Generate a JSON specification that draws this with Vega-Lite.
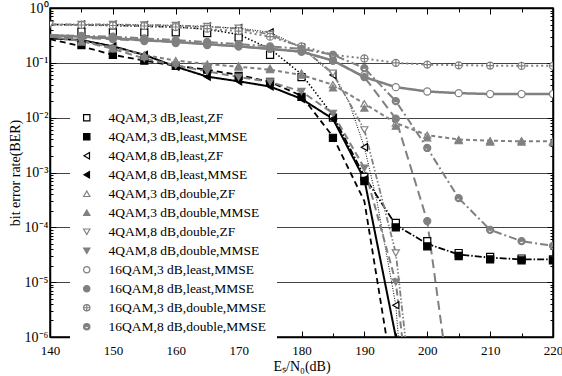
{
"$schema": "https://vega.github.io/schema/vega-lite/v6.json",
"width": 503, "height": 329,
"autosize": {"type": "none"},
"padding": {"left": 50, "top": 8, "right": 9, "bottom": 39},
"background": "white",
"config": {
  "view": {"stroke": "black", "strokeWidth": 1.5},
  "font": "Liberation Serif",
  "axis": {"labelFont": "Liberation Serif", "titleFont": "Liberation Serif", "labelFontSize": 14, "titleFontSize": 14, "titleFontWeight": "normal", "labelColor": "black", "titleColor": "black", "domainColor": "black", "domainWidth": 1.5, "tickColor": "black", "tickWidth": 1, "labelFlush": false, "labelOverlap": false},
  "legend": {"orient": "none", "legendX": 20, "legendY": 93, "fillColor": "white", "padding": 10, "labelFont": "Liberation Serif", "labelFontSize": 13.5, "labelColor": "black", "labelLimit": 400, "symbolSize": 40, "symbolStrokeWidth": 1.2, "rowPadding": 4, "labelOffset": 15}
},
"datasets": {
 "lines": [
  {"curve":"zf3","x":140,"y":0.5},{"curve":"zf3","x":150,"y":0.48},{"curve":"zf3","x":160,"y":0.45},{"curve":"zf3","x":165,"y":0.41},{"curve":"zf3","x":170,"y":0.33},{"curve":"zf3","x":175,"y":0.18},{"curve":"zf3","x":180,"y":0.062},{"curve":"zf3","x":185,"y":0.011},
  {"curve":"floor","x":185,"y":0.011},{"curve":"floor","x":190,"y":0.00085},{"curve":"floor","x":195,"y":0.00011},{"curve":"floor","x":200,"y":0.00005},{"curve":"floor","x":205,"y":0.000032},{"curve":"floor","x":210,"y":0.000028},{"curve":"floor","x":215,"y":0.000026},{"curve":"floor","x":220,"y":0.000026},
  {"curve":"zf8","x":140,"y":0.5},{"curve":"zf8","x":150,"y":0.5},{"curve":"zf8","x":160,"y":0.48},{"curve":"zf8","x":170,"y":0.43},{"curve":"zf8","x":175,"y":0.36},{"curve":"zf8","x":180,"y":0.19},{"curve":"zf8","x":185,"y":0.06},{"curve":"zf8","x":187.5,"y":0.02},{"curve":"zf8","x":190,"y":0.0029},{"curve":"zf8","x":192,"y":0.0003},{"curve":"zf8","x":195,"y":0.0000038},{"curve":"zf8","x":195.4,"y":0.000001},
  {"curve":"solid","x":140,"y":0.28},{"curve":"solid","x":145,"y":0.26},{"curve":"solid","x":150,"y":0.2},{"curve":"solid","x":155,"y":0.14},{"curve":"solid","x":160,"y":0.085},{"curve":"solid","x":165,"y":0.056},{"curve":"solid","x":170,"y":0.046},{"curve":"solid","x":175,"y":0.037},{"curve":"solid","x":180,"y":0.022},{"curve":"solid","x":185,"y":0.0095},{"curve":"solid","x":190,"y":0.00075},{"curve":"solid","x":195,"y":0.000001},
  {"curve":"dash","x":140,"y":0.27},{"curve":"dash","x":145,"y":0.2},{"curve":"dash","x":150,"y":0.14},{"curve":"dash","x":155,"y":0.11},{"curve":"dash","x":160,"y":0.088},{"curve":"dash","x":165,"y":0.075},{"curve":"dash","x":170,"y":0.06},{"curve":"dash","x":175,"y":0.045},{"curve":"dash","x":180,"y":0.025},{"curve":"dash","x":185,"y":0.0045},{"curve":"dash","x":190,"y":0.0003},{"curve":"dash","x":193.5,"y":0.000001},
  {"curve":"gsolid","x":140,"y":0.32},{"curve":"gsolid","x":150,"y":0.28},{"curve":"gsolid","x":160,"y":0.24},{"curve":"gsolid","x":170,"y":0.2},{"curve":"gsolid","x":180,"y":0.16},{"curve":"gsolid","x":185,"y":0.11},{"curve":"gsolid","x":190,"y":0.055},{"curve":"gsolid","x":195,"y":0.036},{"curve":"gsolid","x":200,"y":0.03},{"curve":"gsolid","x":205,"y":0.028},{"curve":"gsolid","x":210,"y":0.027},{"curve":"gsolid","x":215,"y":0.027},{"curve":"gsolid","x":220,"y":0.027},
  {"curve":"gdot","x":140,"y":0.5},{"curve":"gdot","x":150,"y":0.48},{"curve":"gdot","x":160,"y":0.45},{"curve":"gdot","x":170,"y":0.38},{"curve":"gdot","x":175,"y":0.3},{"curve":"gdot","x":180,"y":0.2},{"curve":"gdot","x":185,"y":0.14},{"curve":"gdot","x":190,"y":0.12},{"curve":"gdot","x":195,"y":0.1},{"curve":"gdot","x":200,"y":0.093},{"curve":"gdot","x":210,"y":0.089},{"curve":"gdot","x":220,"y":0.088},
  {"curve":"gdashdot","x":140,"y":0.32},{"curve":"gdashdot","x":150,"y":0.3},{"curve":"gdashdot","x":160,"y":0.26},{"curve":"gdashdot","x":170,"y":0.22},{"curve":"gdashdot","x":180,"y":0.18},{"curve":"gdashdot","x":185,"y":0.14},{"curve":"gdashdot","x":190,"y":0.08},{"curve":"gdashdot","x":195,"y":0.02},{"curve":"gdashdot","x":200,"y":0.0028},{"curve":"gdashdot","x":205,"y":0.00034},{"curve":"gdashdot","x":210,"y":0.00009},{"curve":"gdashdot","x":215,"y":0.000056},{"curve":"gdashdot","x":220,"y":0.000046},
  {"curve":"glong","x":140,"y":0.3},{"curve":"glong","x":150,"y":0.27},{"curve":"glong","x":160,"y":0.24},{"curve":"glong","x":170,"y":0.2},{"curve":"glong","x":180,"y":0.16},{"curve":"glong","x":185,"y":0.11},{"curve":"glong","x":190,"y":0.055},{"curve":"glong","x":195,"y":0.0096},{"curve":"glong","x":200,"y":0.00013},{"curve":"glong","x":202.5,"y":0.000001},
  {"curve":"gshort","x":140,"y":0.3},{"curve":"gshort","x":145,"y":0.25},{"curve":"gshort","x":150,"y":0.19},{"curve":"gshort","x":155,"y":0.14},{"curve":"gshort","x":160,"y":0.11},{"curve":"gshort","x":165,"y":0.095},{"curve":"gshort","x":170,"y":0.085},{"curve":"gshort","x":175,"y":0.075},{"curve":"gshort","x":180,"y":0.06},{"curve":"gshort","x":185,"y":0.04},{"curve":"gshort","x":190,"y":0.018},{"curve":"gshort","x":195,"y":0.008},{"curve":"gshort","x":200,"y":0.0048},{"curve":"gshort","x":205,"y":0.004},{"curve":"gshort","x":210,"y":0.0038},{"curve":"gshort","x":215,"y":0.0037},{"curve":"gshort","x":220,"y":0.0037},
  {"curve":"gdd","x":140,"y":0.5},{"curve":"gdd","x":150,"y":0.5},{"curve":"gdd","x":160,"y":0.48},{"curve":"gdd","x":165,"y":0.46},{"curve":"gdd","x":170,"y":0.42},{"curve":"gdd","x":175,"y":0.33},{"curve":"gdd","x":180,"y":0.19},{"curve":"gdd","x":185,"y":0.065},{"curve":"gdd","x":190,"y":0.006},{"curve":"gdd","x":195,"y":0.000034},{"curve":"gdd","x":196.5,"y":0.000001},
  {"curve":"glong2","x":140,"y":0.3},{"curve":"glong2","x":145,"y":0.25},{"curve":"glong2","x":150,"y":0.18},{"curve":"glong2","x":155,"y":0.12},{"curve":"glong2","x":160,"y":0.09},{"curve":"glong2","x":165,"y":0.07},{"curve":"glong2","x":170,"y":0.055},{"curve":"glong2","x":175,"y":0.045},{"curve":"glong2","x":180,"y":0.03},{"curve":"glong2","x":185,"y":0.012},{"curve":"glong2","x":190,"y":0.0012},{"curve":"glong2","x":195,"y":0.00001},{"curve":"glong2","x":196,"y":0.000001}
 ],
 "pts": [
  {"series":"4QAM,3 dB,least,ZF","x":145,"y":0.37},{"series":"4QAM,3 dB,least,ZF","x":150,"y":0.36},{"series":"4QAM,3 dB,least,ZF","x":155,"y":0.36},{"series":"4QAM,3 dB,least,ZF","x":160,"y":0.36},{"series":"4QAM,3 dB,least,ZF","x":165,"y":0.35},{"series":"4QAM,3 dB,least,ZF","x":170,"y":0.29},{"series":"4QAM,3 dB,least,ZF","x":175,"y":0.14},{"series":"4QAM,3 dB,least,ZF","x":180,"y":0.055},{"series":"4QAM,3 dB,least,ZF","x":185,"y":0.01},{"series":"4QAM,3 dB,least,ZF","x":190,"y":0.00083},{"series":"4QAM,3 dB,least,ZF","x":195,"y":0.00012},{"series":"4QAM,3 dB,least,ZF","x":200,"y":0.000056},{"series":"4QAM,3 dB,least,ZF","x":205,"y":0.000034},{"series":"4QAM,3 dB,least,ZF","x":210,"y":0.000029},{"series":"4QAM,3 dB,least,ZF","x":215,"y":0.000027},{"series":"4QAM,3 dB,least,ZF","x":220,"y":0.000026},
  {"series":"4QAM,3 dB,least,MMSE","x":145,"y":0.21},{"series":"4QAM,3 dB,least,MMSE","x":150,"y":0.14},{"series":"4QAM,3 dB,least,MMSE","x":155,"y":0.11},{"series":"4QAM,3 dB,least,MMSE","x":160,"y":0.088},{"series":"4QAM,3 dB,least,MMSE","x":165,"y":0.075},{"series":"4QAM,3 dB,least,MMSE","x":170,"y":0.058},{"series":"4QAM,3 dB,least,MMSE","x":175,"y":0.045},{"series":"4QAM,3 dB,least,MMSE","x":180,"y":0.024},{"series":"4QAM,3 dB,least,MMSE","x":185,"y":0.0043},{"series":"4QAM,3 dB,least,MMSE","x":190,"y":0.0007},{"series":"4QAM,3 dB,least,MMSE","x":195,"y":0.0001},{"series":"4QAM,3 dB,least,MMSE","x":200,"y":0.000045},{"series":"4QAM,3 dB,least,MMSE","x":205,"y":0.00003},{"series":"4QAM,3 dB,least,MMSE","x":210,"y":0.000026},{"series":"4QAM,3 dB,least,MMSE","x":215,"y":0.000025},{"series":"4QAM,3 dB,least,MMSE","x":220,"y":0.000025},
  {"series":"4QAM,8 dB,least,ZF","x":145,"y":0.5},{"series":"4QAM,8 dB,least,ZF","x":150,"y":0.5},{"series":"4QAM,8 dB,least,ZF","x":155,"y":0.49},{"series":"4QAM,8 dB,least,ZF","x":160,"y":0.48},{"series":"4QAM,8 dB,least,ZF","x":165,"y":0.46},{"series":"4QAM,8 dB,least,ZF","x":170,"y":0.43},{"series":"4QAM,8 dB,least,ZF","x":175,"y":0.36},{"series":"4QAM,8 dB,least,ZF","x":180,"y":0.19},{"series":"4QAM,8 dB,least,ZF","x":185,"y":0.06},{"series":"4QAM,8 dB,least,ZF","x":190,"y":0.0029},{"series":"4QAM,8 dB,least,ZF","x":195,"y":0.0000038},
  {"series":"4QAM,8 dB,least,MMSE","x":145,"y":0.26},{"series":"4QAM,8 dB,least,MMSE","x":150,"y":0.2},{"series":"4QAM,8 dB,least,MMSE","x":155,"y":0.14},{"series":"4QAM,8 dB,least,MMSE","x":160,"y":0.085},{"series":"4QAM,8 dB,least,MMSE","x":165,"y":0.056},{"series":"4QAM,8 dB,least,MMSE","x":170,"y":0.046},{"series":"4QAM,8 dB,least,MMSE","x":175,"y":0.037},{"series":"4QAM,8 dB,least,MMSE","x":180,"y":0.022},{"series":"4QAM,8 dB,least,MMSE","x":185,"y":0.0095},{"series":"4QAM,8 dB,least,MMSE","x":190,"y":0.00075},
  {"series":"4QAM,3 dB,double,ZF","x":145,"y":0.25},{"series":"4QAM,3 dB,double,ZF","x":150,"y":0.19},{"series":"4QAM,3 dB,double,ZF","x":155,"y":0.14},{"series":"4QAM,3 dB,double,ZF","x":160,"y":0.11},{"series":"4QAM,3 dB,double,ZF","x":165,"y":0.095},{"series":"4QAM,3 dB,double,ZF","x":170,"y":0.088},{"series":"4QAM,3 dB,double,ZF","x":175,"y":0.08},{"series":"4QAM,3 dB,double,ZF","x":180,"y":0.065},{"series":"4QAM,3 dB,double,ZF","x":185,"y":0.04},{"series":"4QAM,3 dB,double,ZF","x":190,"y":0.018},{"series":"4QAM,3 dB,double,ZF","x":195,"y":0.008},{"series":"4QAM,3 dB,double,ZF","x":200,"y":0.0048},{"series":"4QAM,3 dB,double,ZF","x":205,"y":0.004},{"series":"4QAM,3 dB,double,ZF","x":210,"y":0.0038},{"series":"4QAM,3 dB,double,ZF","x":215,"y":0.0038},{"series":"4QAM,3 dB,double,ZF","x":220,"y":0.0037},
  {"series":"4QAM,3 dB,double,MMSE","x":145,"y":0.24},{"series":"4QAM,3 dB,double,MMSE","x":150,"y":0.18},{"series":"4QAM,3 dB,double,MMSE","x":155,"y":0.13},{"series":"4QAM,3 dB,double,MMSE","x":160,"y":0.1},{"series":"4QAM,3 dB,double,MMSE","x":165,"y":0.088},{"series":"4QAM,3 dB,double,MMSE","x":170,"y":0.084},{"series":"4QAM,3 dB,double,MMSE","x":175,"y":0.075},{"series":"4QAM,3 dB,double,MMSE","x":180,"y":0.06},{"series":"4QAM,3 dB,double,MMSE","x":185,"y":0.035},{"series":"4QAM,3 dB,double,MMSE","x":190,"y":0.015},{"series":"4QAM,3 dB,double,MMSE","x":195,"y":0.007},{"series":"4QAM,3 dB,double,MMSE","x":200,"y":0.0043},{"series":"4QAM,3 dB,double,MMSE","x":205,"y":0.0038},{"series":"4QAM,3 dB,double,MMSE","x":210,"y":0.0036},{"series":"4QAM,3 dB,double,MMSE","x":215,"y":0.0036},{"series":"4QAM,3 dB,double,MMSE","x":220,"y":0.0035},
  {"series":"4QAM,8 dB,double,ZF","x":140,"y":0.5},{"series":"4QAM,8 dB,double,ZF","x":145,"y":0.5},{"series":"4QAM,8 dB,double,ZF","x":150,"y":0.5},{"series":"4QAM,8 dB,double,ZF","x":155,"y":0.49},{"series":"4QAM,8 dB,double,ZF","x":160,"y":0.48},{"series":"4QAM,8 dB,double,ZF","x":165,"y":0.46},{"series":"4QAM,8 dB,double,ZF","x":170,"y":0.43},{"series":"4QAM,8 dB,double,ZF","x":175,"y":0.33},{"series":"4QAM,8 dB,double,ZF","x":180,"y":0.19},{"series":"4QAM,8 dB,double,ZF","x":185,"y":0.065},{"series":"4QAM,8 dB,double,ZF","x":190,"y":0.006},{"series":"4QAM,8 dB,double,ZF","x":195,"y":0.000034},
  {"series":"4QAM,8 dB,double,MMSE","x":145,"y":0.25},{"series":"4QAM,8 dB,double,MMSE","x":150,"y":0.18},{"series":"4QAM,8 dB,double,MMSE","x":155,"y":0.12},{"series":"4QAM,8 dB,double,MMSE","x":160,"y":0.09},{"series":"4QAM,8 dB,double,MMSE","x":165,"y":0.07},{"series":"4QAM,8 dB,double,MMSE","x":170,"y":0.055},{"series":"4QAM,8 dB,double,MMSE","x":175,"y":0.045},{"series":"4QAM,8 dB,double,MMSE","x":180,"y":0.03},{"series":"4QAM,8 dB,double,MMSE","x":185,"y":0.012},{"series":"4QAM,8 dB,double,MMSE","x":190,"y":0.0012},{"series":"4QAM,8 dB,double,MMSE","x":195,"y":0.00001},
  {"series":"16QAM,3 dB,least,MMSE","x":145,"y":0.3},{"series":"16QAM,3 dB,least,MMSE","x":150,"y":0.28},{"series":"16QAM,3 dB,least,MMSE","x":155,"y":0.26},{"series":"16QAM,3 dB,least,MMSE","x":160,"y":0.24},{"series":"16QAM,3 dB,least,MMSE","x":165,"y":0.22},{"series":"16QAM,3 dB,least,MMSE","x":170,"y":0.2},{"series":"16QAM,3 dB,least,MMSE","x":175,"y":0.18},{"series":"16QAM,3 dB,least,MMSE","x":180,"y":0.16},{"series":"16QAM,3 dB,least,MMSE","x":185,"y":0.11},{"series":"16QAM,3 dB,least,MMSE","x":190,"y":0.06},{"series":"16QAM,3 dB,least,MMSE","x":195,"y":0.036},{"series":"16QAM,3 dB,least,MMSE","x":200,"y":0.03},{"series":"16QAM,3 dB,least,MMSE","x":205,"y":0.028},{"series":"16QAM,3 dB,least,MMSE","x":210,"y":0.027},{"series":"16QAM,3 dB,least,MMSE","x":215,"y":0.027},{"series":"16QAM,3 dB,least,MMSE","x":220,"y":0.027},
  {"series":"16QAM,8 dB,least,MMSE","x":145,"y":0.29},{"series":"16QAM,8 dB,least,MMSE","x":150,"y":0.27},{"series":"16QAM,8 dB,least,MMSE","x":155,"y":0.25},{"series":"16QAM,8 dB,least,MMSE","x":160,"y":0.23},{"series":"16QAM,8 dB,least,MMSE","x":165,"y":0.21},{"series":"16QAM,8 dB,least,MMSE","x":170,"y":0.2},{"series":"16QAM,8 dB,least,MMSE","x":175,"y":0.18},{"series":"16QAM,8 dB,least,MMSE","x":180,"y":0.16},{"series":"16QAM,8 dB,least,MMSE","x":185,"y":0.11},{"series":"16QAM,8 dB,least,MMSE","x":190,"y":0.055},{"series":"16QAM,8 dB,least,MMSE","x":195,"y":0.0096},{"series":"16QAM,8 dB,least,MMSE","x":200,"y":0.00013},
  {"series":"16QAM,3 dB,double,MMSE","x":145,"y":0.49},{"series":"16QAM,3 dB,double,MMSE","x":150,"y":0.48},{"series":"16QAM,3 dB,double,MMSE","x":155,"y":0.47},{"series":"16QAM,3 dB,double,MMSE","x":160,"y":0.45},{"series":"16QAM,3 dB,double,MMSE","x":165,"y":0.42},{"series":"16QAM,3 dB,double,MMSE","x":170,"y":0.38},{"series":"16QAM,3 dB,double,MMSE","x":175,"y":0.3},{"series":"16QAM,3 dB,double,MMSE","x":180,"y":0.2},{"series":"16QAM,3 dB,double,MMSE","x":185,"y":0.14},{"series":"16QAM,3 dB,double,MMSE","x":190,"y":0.12},{"series":"16QAM,3 dB,double,MMSE","x":195,"y":0.1},{"series":"16QAM,3 dB,double,MMSE","x":200,"y":0.093},{"series":"16QAM,3 dB,double,MMSE","x":205,"y":0.09},{"series":"16QAM,3 dB,double,MMSE","x":210,"y":0.089},{"series":"16QAM,3 dB,double,MMSE","x":215,"y":0.088},{"series":"16QAM,3 dB,double,MMSE","x":220,"y":0.088},
  {"series":"16QAM,8 dB,double,MMSE","x":145,"y":0.31},{"series":"16QAM,8 dB,double,MMSE","x":150,"y":0.3},{"series":"16QAM,8 dB,double,MMSE","x":155,"y":0.28},{"series":"16QAM,8 dB,double,MMSE","x":160,"y":0.26},{"series":"16QAM,8 dB,double,MMSE","x":165,"y":0.24},{"series":"16QAM,8 dB,double,MMSE","x":170,"y":0.22},{"series":"16QAM,8 dB,double,MMSE","x":175,"y":0.2},{"series":"16QAM,8 dB,double,MMSE","x":180,"y":0.18},{"series":"16QAM,8 dB,double,MMSE","x":185,"y":0.14},{"series":"16QAM,8 dB,double,MMSE","x":190,"y":0.08},{"series":"16QAM,8 dB,double,MMSE","x":195,"y":0.02},{"series":"16QAM,8 dB,double,MMSE","x":200,"y":0.0028},{"series":"16QAM,8 dB,double,MMSE","x":205,"y":0.00034},{"series":"16QAM,8 dB,double,MMSE","x":210,"y":0.00009},{"series":"16QAM,8 dB,double,MMSE","x":215,"y":0.000056},{"series":"16QAM,8 dB,double,MMSE","x":220,"y":0.000046}
 ]
},
"layer": [
 {
  "data": {"name": "lines"},
  "mark": {"type": "line", "clip": true},
  "encoding": {
   "x": {"field": "x", "type": "quantitative", "scale": {"domain": [140, 220], "nice": false, "zero": false},
     "axis": {"orient": "bottom", "values": [140,145,150,155,160,165,170,175,180,185,190,195,200,205,210,215,220], "labelExpr": "datum.value % 10 == 0 ? datum.label : ''", "tickSize": {"condition": {"test": "datum.value % 10 == 0", "value": -6}, "value": -4}, "labelPadding": 13, "labelFontSize": 13, "grid": false, "title": "Eₛ/N₀(dB)", "titlePadding": 0}},
   "y": {"field": "y", "type": "quantitative", "scale": {"type": "log", "domain": [0.000001, 1], "nice": false},
     "axis": {"orient": "left", "values": [0.000001,0.000002,0.000003,0.000004,0.000005,0.000006,0.000007,0.000008,0.000009,0.00001,0.00002,0.00003,0.00004,0.00005,0.00006,0.00007,0.00008,0.00009,0.0001,0.0002,0.0003,0.0004,0.0005,0.0006,0.0007,0.0008,0.0009,0.001,0.002,0.003,0.004,0.005,0.006,0.007,0.008,0.009,0.01,0.02,0.03,0.04,0.05,0.06,0.07,0.08,0.09,0.1,0.2,0.3,0.4,0.5,0.6,0.7,0.8,0.9,1],
       "labelExpr": "datum.value==1?'10⁰':datum.value==0.1?'10⁻¹':datum.value==0.01?'10⁻²':datum.value==0.001?'10⁻³':datum.value==0.0001?'10⁻⁴':datum.value==0.00001?'10⁻⁵':datum.value==0.000001?'10⁻⁶':''",
       "tickSize": {"condition": {"test": "indexof([1,0.1,0.01,0.001,0.0001,0.00001,0.000001], datum.value) >= 0", "value": -6}, "value": -3},
       "grid": true, "gridColor": "#444444", "gridWidth": 1,
       "gridOpacity": {"condition": {"test": "indexof([1,0.1,0.01,0.001,0.0001,0.00001,0.000001], datum.value) >= 0", "value": 1}, "value": 0},
       "labelPadding": 8, "title": "bit error rate(BER)", "titlePadding": 2}},
   "color": {"field": "curve", "type": "nominal", "legend": null,
     "scale": {"domain": ["zf3","floor","zf8","solid","dash","gsolid","gdot","gdashdot","glong","gshort","gdd","glong2"],
               "range": ["#000000","#000000","#000000","#000000","#000000","#808080","#808080","#808080","#808080","#808080","#808080","#808080"]}},
   "strokeDash": {"field": "curve", "type": "nominal", "legend": null,
     "scale": {"domain": ["zf3","floor","zf8","solid","dash","gsolid","gdot","gdashdot","glong","gshort","gdd","glong2"],
               "range": [[1.5,2],[7,2,1.5,2],[1,1.5],[1,0],[6,4],[1,0],[2,3],[8,3,2,3],[9,5],[4,3],[6,2,1.5,2,1.5,2],[7,4]]}},
   "strokeWidth": {"field": "curve", "type": "nominal", "legend": null,
     "scale": {"type": "ordinal", "domain": ["zf3","floor","zf8","solid","dash","gsolid","gdot","gdashdot","glong","gshort","gdd","glong2"],
               "range": [1.5,1.8,1,2,1.8,2.5,2,2,2,2,1.8,2]}}
  }
 },
 {
  "data": {"name": "pts"},
  "mark": {"type": "point", "filled": true, "opacity": 1, "size": 50, "strokeWidth": 1.2, "clip": true},
  "encoding": {
   "x": {"field": "x", "type": "quantitative",
     "axis": {"orient": "top", "values": [140,145,150,155,160,165,170,175,180,185,190,195,200,205,210,215,220], "labels": false, "title": null, "grid": false, "tickSize": {"condition": {"test": "datum.value % 10 == 0", "value": -6}, "value": -4}}},
   "y": {"field": "y", "type": "quantitative",
     "axis": {"orient": "right", "values": [0.000001,0.000002,0.000003,0.000004,0.000005,0.000006,0.000007,0.000008,0.000009,0.00001,0.00002,0.00003,0.00004,0.00005,0.00006,0.00007,0.00008,0.00009,0.0001,0.0002,0.0003,0.0004,0.0005,0.0006,0.0007,0.0008,0.0009,0.001,0.002,0.003,0.004,0.005,0.006,0.007,0.008,0.009,0.01,0.02,0.03,0.04,0.05,0.06,0.07,0.08,0.09,0.1,0.2,0.3,0.4,0.5,0.6,0.7,0.8,0.9,1],
       "labels": false, "title": null, "grid": false,
       "tickSize": {"condition": {"test": "indexof([1,0.1,0.01,0.001,0.0001,0.00001,0.000001], datum.value) >= 0", "value": -6}, "value": -3}}},
   "shape": {"field": "series", "type": "nominal", "legend": {"title": null, "labelExpr": "datum.label + '\u00a0\u00a0\u00a0\u00a0\u00a0\u00a0'"},
     "scale": {"domain": ["4QAM,3 dB,least,ZF","4QAM,3 dB,least,MMSE","4QAM,8 dB,least,ZF","4QAM,8 dB,least,MMSE","4QAM,3 dB,double,ZF","4QAM,3 dB,double,MMSE","4QAM,8 dB,double,ZF","4QAM,8 dB,double,MMSE","16QAM,3 dB,least,MMSE","16QAM,8 dB,least,MMSE","16QAM,3 dB,double,MMSE","16QAM,8 dB,double,MMSE"],
       "range": ["square","square","triangle-left","triangle-left","triangle-up","triangle-up","triangle-down","triangle-down","circle","circle","M-1,0A1,1,0,1,1,1,0A1,1,0,1,1,-1,0ZM-1,0L1,0M0,-1L0,1","M-1,0A1,1,0,0,1,1,0ZM1,0A1,1,0,0,1,-1,0L-0.7,0A0.7,0.7,0,0,0,0.7,0Z"]}},
   "fill": {"field": "series", "type": "nominal", "legend": {"title": null, "labelExpr": "datum.label + '\u00a0\u00a0\u00a0\u00a0\u00a0\u00a0'"},
     "scale": {"domain": ["4QAM,3 dB,least,ZF","4QAM,3 dB,least,MMSE","4QAM,8 dB,least,ZF","4QAM,8 dB,least,MMSE","4QAM,3 dB,double,ZF","4QAM,3 dB,double,MMSE","4QAM,8 dB,double,ZF","4QAM,8 dB,double,MMSE","16QAM,3 dB,least,MMSE","16QAM,8 dB,least,MMSE","16QAM,3 dB,double,MMSE","16QAM,8 dB,double,MMSE"],
       "range": ["#ffffff","#000000","#ffffff","#000000","#ffffff","#808080","#ffffff","#808080","#ffffff","#808080","#ffffff","#808080"]}},
   "stroke": {"field": "series", "type": "nominal", "legend": {"title": null, "labelExpr": "datum.label + '\u00a0\u00a0\u00a0\u00a0\u00a0\u00a0'"},
     "scale": {"domain": ["4QAM,3 dB,least,ZF","4QAM,3 dB,least,MMSE","4QAM,8 dB,least,ZF","4QAM,8 dB,least,MMSE","4QAM,3 dB,double,ZF","4QAM,3 dB,double,MMSE","4QAM,8 dB,double,ZF","4QAM,8 dB,double,MMSE","16QAM,3 dB,least,MMSE","16QAM,8 dB,least,MMSE","16QAM,3 dB,double,MMSE","16QAM,8 dB,double,MMSE"],
       "range": ["#000000","#000000","#000000","#000000","#808080","#808080","#808080","#808080","#808080","#808080","#808080","#808080"]}}
  }
 }
],
"resolve": {"axis": {"x": "independent", "y": "independent"}}
}
